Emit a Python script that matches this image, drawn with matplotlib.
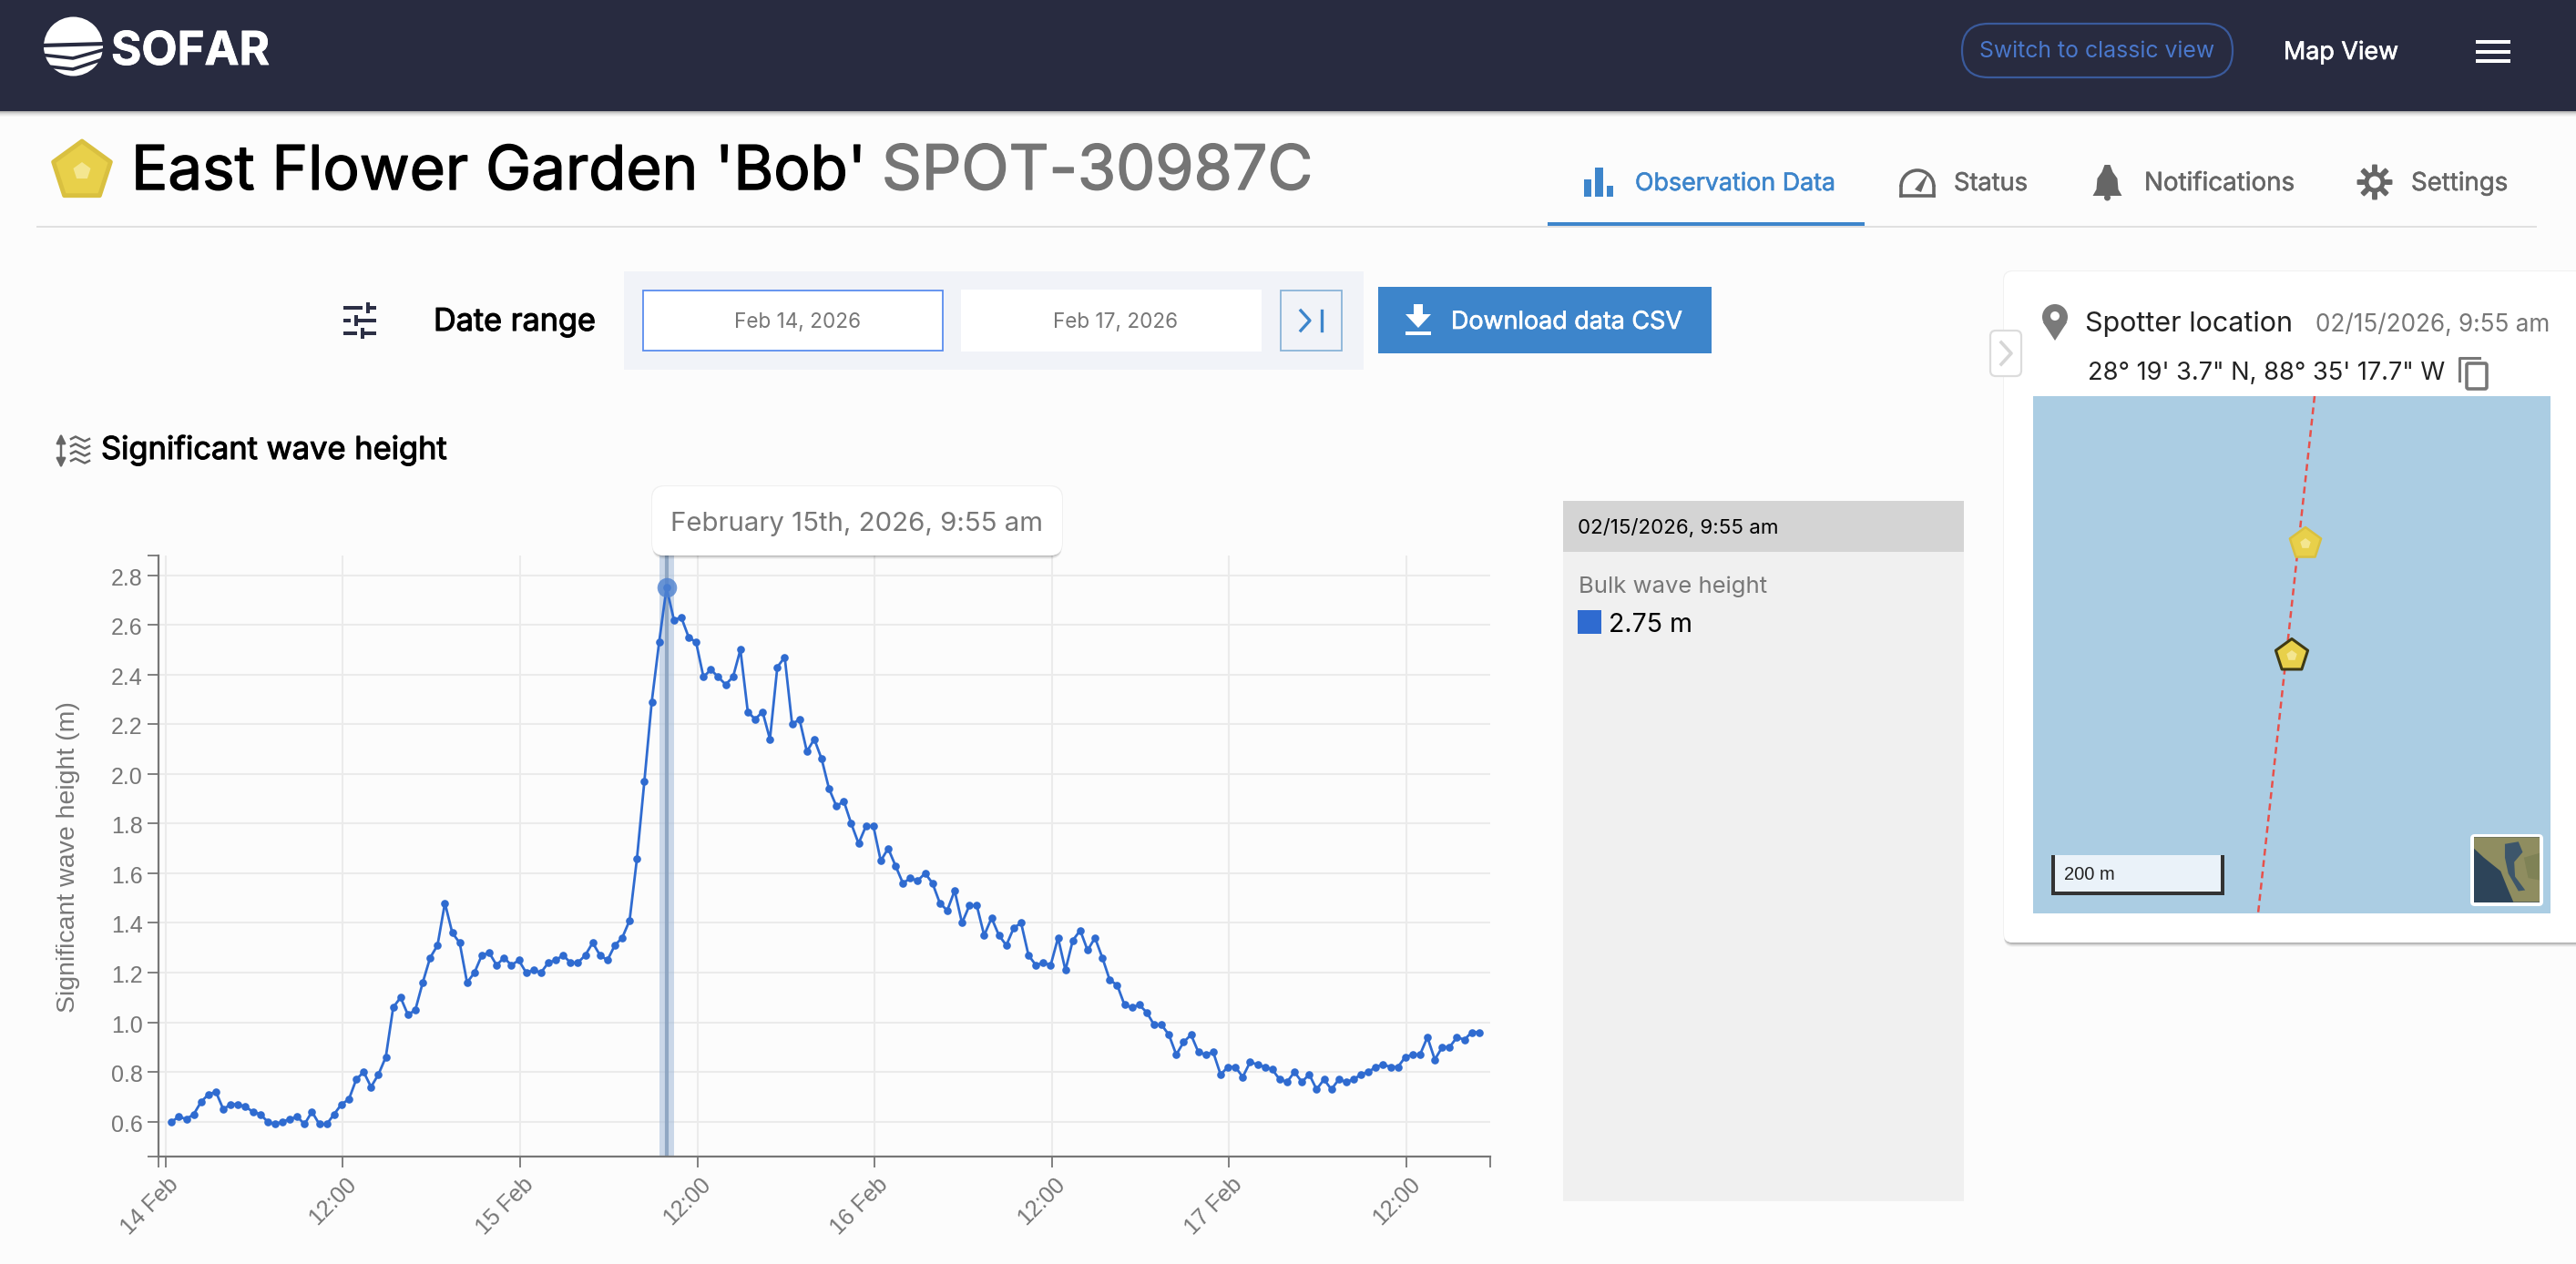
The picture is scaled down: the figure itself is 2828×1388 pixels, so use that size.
import numpy as np
import pandas as pd
import matplotlib
matplotlib.use("Agg")
import matplotlib.pyplot as plt
import matplotlib.dates as mdates
import matplotlib.patheffects as pe
from matplotlib.patches import Rectangle, FancyBboxPatch, Polygon, Circle, Arc
from matplotlib.ticker import FixedLocator, FixedFormatter, NullFormatter
from matplotlib.transforms import ScaledTranslation

# ---------- data ----------
start_time = "2026-02-14 00:25"
wave_height = [
    0.60, 0.62, 0.61, 0.63, 0.68, 0.71, 0.72, 0.65, 0.67, 0.67, 0.66, 0.64, 0.63, 0.60, 0.59, 0.60,
    0.61, 0.62, 0.59, 0.64, 0.59, 0.59, 0.63, 0.67, 0.69, 0.77, 0.80, 0.74, 0.79, 0.86, 1.06, 1.10,
    1.03, 1.05, 1.16, 1.26, 1.31, 1.48, 1.36, 1.32, 1.16, 1.20, 1.27, 1.28, 1.23, 1.26, 1.23, 1.25,
    1.20, 1.21, 1.20, 1.24, 1.25, 1.27, 1.24, 1.24, 1.27, 1.32, 1.27, 1.25, 1.31, 1.34, 1.41, 1.66,
    1.97, 2.29, 2.53, 2.75, 2.62, 2.63, 2.55, 2.53, 2.39, 2.42, 2.39, 2.36, 2.39, 2.50, 2.25, 2.22,
    2.25, 2.14, 2.43, 2.47, 2.20, 2.22, 2.09, 2.14, 2.06, 1.94, 1.87, 1.89, 1.80, 1.72, 1.79, 1.79,
    1.65, 1.70, 1.63, 1.56, 1.58, 1.57, 1.60, 1.56, 1.48, 1.45, 1.53, 1.40, 1.47, 1.47, 1.35, 1.42,
    1.35, 1.31, 1.38, 1.40, 1.27, 1.23, 1.24, 1.23, 1.34, 1.21, 1.33, 1.37, 1.29, 1.34, 1.26, 1.17,
    1.15, 1.07, 1.06, 1.07, 1.04, 0.99, 0.99, 0.95, 0.87, 0.92, 0.95, 0.88, 0.87, 0.88, 0.79, 0.82,
    0.82, 0.78, 0.84, 0.83, 0.82, 0.81, 0.77, 0.76, 0.80, 0.76, 0.79, 0.73, 0.77, 0.73, 0.77, 0.76,
    0.77, 0.79, 0.80, 0.82, 0.83, 0.82, 0.82, 0.86, 0.87, 0.87, 0.94, 0.85, 0.90, 0.90, 0.94, 0.93,
    0.96, 0.96,
]
highlight_index = 67
y_ticks = [0.6, 0.8, 1.0, 1.2, 1.4, 1.6, 1.8, 2.0, 2.2, 2.4, 2.6, 2.8]
x_tick_times = ["2026-02-14 00:00", "2026-02-14 12:00", "2026-02-15 00:00", "2026-02-15 12:00",
                "2026-02-16 00:00", "2026-02-16 12:00", "2026-02-17 00:00", "2026-02-17 12:00"]
x_tick_labels = ["14 Feb", "12:00", "15 Feb", "12:00", "16 Feb", "12:00", "17 Feb", "12:00"]
y_label = "Significant wave height (m)"
tooltip_text = "February 15th, 2026, 9:55 am"
panel_time = "02/15/2026, 9:55 am"
panel_series = "Bulk wave height"
panel_value = "2.75 m"

W, H = 2828, 1388
BG = "#fcfcfc"
NAVY = "#282b40"
BLUE = "#3d85cb"
LINE = "#2f6bd0"
UI_FONT = ["Inter", "DejaVu Sans"]
CH_FONT = ["Liberation Sans", "DejaVu Sans"]

fig = plt.figure(figsize=(W / 100, H / 100), dpi=100, facecolor=BG)
ui = fig.add_axes([0, 0, 1, 1], zorder=0)
ui.set_xlim(0, W); ui.set_ylim(H, 0); ui.axis("off")
top = fig.add_axes([0, 0, 1, 1], zorder=3)
top.set_xlim(0, W); top.set_ylim(H, 0); top.axis("off"); top.patch.set_alpha(0)
renderer = fig.canvas.get_renderer()


def label(a, s, x0, base, width, color="black", font=UI_FONT, weight="normal", zorder=5, stroke=0):
    t = a.text(x0, base, s, ha="left", va="baseline", color=color, family=font,
               weight=weight, fontsize=20, zorder=zorder)
    w = t.get_window_extent(renderer).width
    t.set_fontsize(20 * width / w)
    if stroke:
        t.set_path_effects([pe.withStroke(linewidth=stroke, foreground=color)])
    return t


def rect(a, x0, y0, x1, y1, color, ec="none", lw=0, alpha=None, zorder=1):
    a.add_patch(Rectangle((x0, y0), x1 - x0, y1 - y0, facecolor=color, edgecolor=ec,
                          linewidth=lw, alpha=alpha, zorder=zorder))


def round_box(a, x0, y0, x1, y1, r, fc, ec="none", lw=0, zorder=1, alpha=None):
    a.add_patch(FancyBboxPatch((x0 + r, y0 + r), x1 - x0 - 2 * r, y1 - y0 - 2 * r,
                               boxstyle=f"round,pad={r},rounding_size={r}", facecolor=fc,
                               edgecolor=ec, linewidth=lw, zorder=zorder, alpha=alpha))


def pentagon(a, cx, cy, r, fc, ec, lw, zorder=6):
    ang = np.deg2rad(-90 + 72 * np.arange(5))
    a.add_patch(Polygon(np.c_[cx + r * np.cos(ang), cy + r * np.sin(ang)], closed=True,
                        facecolor=fc, edgecolor=ec, linewidth=lw, joinstyle="round", zorder=zorder))


# ---------- header ----------
for i, al in enumerate([0.30, 0.22, 0.15, 0.10, 0.06, 0.03]):
    rect(ui, 0, 122 + i, W, 123 + i, "black", alpha=al)
rect(ui, 0, 0, W, 122, NAVY)
ui.add_patch(Circle((80.5, 51), 32.5, facecolor="white", edgecolor="none", zorder=2))
ui.plot([44, 116], [50, 48], color=NAVY, lw=3.0, zorder=3)
ui.plot([44, 80, 116], [60, 64, 54], color=NAVY, lw=2.6, zorder=3)
ui.plot([44, 80, 116], [72, 76, 64], color=NAVY, lw=2.6, zorder=3)
label(ui, "SOFAR", 122, 71, 174, "white", weight="bold", stroke=0.6)
round_box(ui, 2154, 26, 2451, 85, 29, "none", "#3a5a9c", 1.6, zorder=2)
label(ui, "Switch to classic view", 2173, 63, 258, "#4a78cc")
label(ui, "Map View", 2507, 65, 126, "white", stroke=0.5)
for y0 in (44, 55, 65):
    rect(ui, 2718, y0, 2756, y0 + 4, "white", zorder=2)

# ---------- title row ----------
pentagon(ui, 90, 188, 33, "#e8d04a", "#d9c040", 3.5)
pentagon(ui, 90, 188, 10, "#f4e690", "none", 0, zorder=7)
label(ui, "East Flower Garden 'Bob'", 144, 208, 808, "black", stroke=1.0)
label(ui, "SPOT-30987C", 968, 208, 473, "#757575", stroke=1.0)
rect(ui, 40, 248, 2785, 250, "#e0e0e0")
rect(ui, 1699, 244, 2047, 248, BLUE, zorder=2)
for x0, x1, y0 in ((1739, 1747, 197), (1751, 1760, 184), (1764, 1771, 204)):
    rect(ui, x0, y0, x1, 216, BLUE)
label(ui, "Observation Data", 1795, 209, 220, BLUE, stroke=0.4)
GR = "#666666"
ui.add_patch(Arc((2105, 205), 36, 36, theta1=0, theta2=180, angle=180, color=GR, lw=2.6, zorder=2))
ui.plot([2087, 2123], [215, 215], color=GR, lw=2.6, zorder=2)
ui.plot([2087, 2087], [205, 215], color=GR, lw=2.6, zorder=2)
ui.plot([2123, 2123], [205, 215], color=GR, lw=2.6, zorder=2)
ui.add_patch(Polygon([[2117, 190], [2109, 211], [2102, 208]], facecolor=GR, zorder=2))
label(ui, "Status", 2145, 209, 81, GR, stroke=0.4)
bx = np.array([2303, 2309, 2312, 2317, 2318, 2322, 2290, 2294, 2295, 2300]) + 7.5
ui.add_patch(Polygon(np.c_[bx, [181, 181, 189, 196, 208, 215, 215, 208, 196, 189]], facecolor=GR, zorder=2))
ui.add_patch(Circle((2313.5, 217), 3.5, facecolor=GR, zorder=2))
label(ui, "Notifications", 2354, 209, 165, GR, stroke=0.4)
ang = np.linspace(0, 2 * np.pi, 361)
rad = 15.5 + 4 * np.clip(2.5 * np.cos(8 * ang), -1, 1)
ui.add_patch(Polygon(np.c_[2607 + rad * np.cos(ang), 200 + rad * np.sin(ang)], facecolor=GR, zorder=2))
ui.add_patch(Circle((2607, 200), 6.5, facecolor=BG, zorder=3))
label(ui, "Settings", 2647, 209, 106, GR, stroke=0.4)

# ---------- controls ----------
I = "#2c2f45"
for yy, xk in ((338, 402), (352, 389), (366, 396)):
    rect(ui, 377, yy - 2, 413, yy + 2, I)
    rect(ui, xk, yy - 6, xk + 4, yy + 6, I, zorder=2)
    rect(ui, xk - 4, yy - 3, xk, yy + 3, BG, zorder=2)
label(ui, "Date range", 476, 363, 178, "black", stroke=0.8)
rect(ui, 685, 298, 1497, 406, "#f1f3f8")
rect(ui, 706, 319, 1035, 385, "white", "#5b8def", 1.3, zorder=2)
rect(ui, 1055, 318, 1385, 386, "white", zorder=2)
rect(ui, 1406, 319, 1473, 385, "#f1f3f8", "#8ab4d8", 1.3, zorder=2)
ui.plot([1428, 1438, 1428], [341, 352, 363], color=BLUE, lw=2.4, zorder=3)
ui.plot([1451, 1451], [341, 363], color=BLUE, lw=2.4, zorder=3)
label(ui, "Feb 14, 2026", 806, 360, 139, "#777777")
label(ui, "Feb 17, 2026", 1156, 360, 137, "#777777")
rect(ui, 1513, 315, 1879, 388, BLUE)
ui.add_patch(Polygon([[1552, 334], [1562, 334], [1562, 345], [1571, 345], [1557, 360], [1543, 345], [1552, 345]],
                     facecolor="white", zorder=3))
rect(ui, 1543, 364, 1571, 368, "white", zorder=3)
label(ui, "Download data CSV", 1593, 361, 254, "white", stroke=0.5)

# section heading
ui.annotate("", xy=(67, 476), xytext=(67, 514), arrowprops=dict(arrowstyle="<|-|>", color="#666666", lw=1.8, shrinkA=0, shrinkB=0, mutation_scale=15))
for yy in (482, 490, 498, 506):
    xs = [78, 83, 88, 93, 98]
    ui.plot(xs, [yy, yy - 2.5, yy, yy + 2.5, yy], color="#666666", lw=1.8, zorder=2)
label(ui, "Significant wave height", 111, 504, 379, "black", stroke=0.8)

# ---------- side panel ----------
rect(ui, 1716, 550, 2156, 1319, "#f0f0f0")
rect(ui, 1716, 550, 2156, 606, "#d4d4d4", zorder=2)
label(ui, panel_time, 1732, 586, 220, "black")
label(ui, panel_series, 1733, 651, 207, "#777777")
rect(ui, 1732, 670, 1758, 696, LINE)
label(ui, panel_value, 1766, 694, 92, "black")

# ---------- location card ----------
for off, al in ((5, 0.03), (4, 0.05), (3, 0.07), (2, 0.09), (1, 0.10)):
    round_box(ui, 2200, 298 + off, 2860, 1035 + off, 10, "black", zorder=1, alpha=al)
round_box(ui, 2199, 297, 2860, 1035, 10, "#f1f1f1", zorder=1.5)
round_box(ui, 2200, 298, 2860, 1035, 10, "white", zorder=2)
round_box(ui, 2185, 363, 2219, 413, 6, "white", "#dcdcdc", 1.6, zorder=4)
ui.plot([2197, 2208, 2197], [376, 388, 400], color="#d6d6d6", lw=2.6, zorder=5)
ui.add_patch(Circle((2256, 348), 14, facecolor="#7a7a7a", zorder=4))
ui.add_patch(Polygon([[2243, 354], [2269, 354], [2256, 374]], facecolor="#7a7a7a", zorder=4))
ui.add_patch(Circle((2256, 347), 5, facecolor="white", zorder=5))
label(ui, "Spotter location", 2289, 364, 228, "#222222")
label(ui, panel_time, 2542, 364, 258, "#777777")
label(ui, "28° 19' 3.7\" N, 88° 35' 17.7\" W", 2292, 417, 394, "#222222")
ui.plot([2700, 2700, 2722], [418, 393, 393], color="#777777", lw=2.2, zorder=4)
round_box(ui, 2708, 399, 2730, 427, 2, "white", "#777777", 2.6, zorder=5)
rect(ui, 2232, 435, 2800, 1003, "#abcde3", zorder=3)
ui.plot([2541, 2479], [435, 1003], color="#e8504a", lw=1.8, ls=(0, (3, 2)), zorder=4)
pentagon(ui, 2531, 597, 18, "#e8d04a", "#d9c040", 1.8)
pentagon(ui, 2531, 597, 6, "#f4e690", "none", 0, zorder=7)
pentagon(ui, 2516, 720, 18.5, "#e8d04a", "#3f3a14", 2.2)
pentagon(ui, 2516, 720, 6, "#f4e690", "none", 0, zorder=7)
rect(ui, 2254, 939, 2440, 980, "#eaf2f9", zorder=4)
rect(ui, 2252, 939, 2256, 983, "#333333", zorder=5)
rect(ui, 2438, 939, 2442, 983, "#333333", zorder=5)
rect(ui, 2252, 979, 2442, 983, "#333333", zorder=5)
label(ui, "200 m", 2266, 966, 56, "#222222", font=CH_FONT)
round_box(ui, 2712, 916, 2792, 995, 5, "white", zorder=4)
rect(ui, 2716, 919, 2788, 991, "#2d4459", zorder=5)


def thumb(pts):
    pts = np.array(pts, dtype=float)
    return np.c_[2100 + pts[:, 0] / 2.154, 280 + pts[:, 1] / 2.01]


ui.add_patch(Polygon(thumb([[1327, 1285], [1482, 1285], [1482, 1428], [1420, 1428], [1405, 1395], [1390, 1360],
                            [1370, 1345], [1350, 1330], [1327, 1310]]), facecolor="#8f8d60", zorder=6))
ui.add_patch(Polygon(thumb([[1400, 1300], [1432, 1295], [1442, 1318], [1422, 1340], [1424, 1372], [1448, 1402],
                            [1432, 1404], [1408, 1365], [1400, 1330]]), facecolor="#3d566b", zorder=7))
ui.add_patch(Polygon(thumb([[1445, 1330], [1482, 1320], [1482, 1380], [1455, 1375]]), facecolor="#7f8256", zorder=7))

# ---------- chart ----------
px0, px1, py0, py1 = 174, 1636, 609.5, 1270
ax = fig.add_axes([px0 / W, 1 - py1 / H, (px1 - px0) / W, (py1 - py0) / H], zorder=2)
ax.patch.set_alpha(0)
times = pd.date_range(start_time, periods=len(wave_height), freq="30min")
tick_dates = pd.to_datetime(x_tick_times)
x_ref = mdates.date2num(tick_dates[0])
hour = 1 / 24
x_min = x_ref - (181.6 - px0) / 16.22 * hour
x_max = x_ref + (px1 - 181.6) / 16.22 * hour
y_min, y_max = 0.4596, 2.881
ax.set_xlim(x_min, x_max)
ax.set_ylim(y_min, y_max)
for s in ("top", "right"):
    ax.spines[s].set_visible(False)
for s in ("left", "bottom"):
    ax.spines[s].set_color("#777777")
    ax.spines[s].set_linewidth(1.6)

ax.xaxis.set_major_locator(FixedLocator(mdates.date2num(tick_dates)))
ax.xaxis.set_major_formatter(FixedFormatter(x_tick_labels))
ax.xaxis.set_minor_locator(FixedLocator([x_min, x_max]))
ax.xaxis.set_minor_formatter(NullFormatter())
ax.yaxis.set_major_locator(FixedLocator(y_ticks))
ax.yaxis.set_major_formatter(FixedFormatter([f"{v:.1f}" for v in y_ticks]))
ax.yaxis.set_minor_locator(FixedLocator([y_min, y_max]))
ax.yaxis.set_minor_formatter(NullFormatter())
ax.tick_params(which="both", length=8.5, width=1.3, color="#777777")
ax.tick_params(axis="y", which="major", labelsize=18, labelcolor="#767676", pad=4)
ax.tick_params(axis="x", which="major", labelsize=18, labelcolor="#767676", pad=5)
y_shift = ScaledTranslation(0, -1.5 / 100, fig.dpi_scale_trans)
for t in ax.get_yticklabels():
    t.set_family(CH_FONT)
    t.set_transform(t.get_transform() + y_shift)
shift = ScaledTranslation(2.5 / 100, 0, fig.dpi_scale_trans)
for t in ax.get_xticklabels():
    t.set_family(CH_FONT)
    t.set_rotation(45)
    t.set_ha("right")
    t.set_va("top")
    t.set_rotation_mode("anchor")
    t.set_transform(t.get_transform() + shift)
ax.grid(True, which="major", color="#ebebeb", lw=1.5, zorder=0)
ax.set_axisbelow(True)
ax.set_ylabel(y_label, fontsize=20.5, color="#777777", family=CH_FONT, labelpad=0)
ax.yaxis.set_label_coords((88 - px0) / (px1 - px0), (py1 - 941) / (py1 - py0))

xh = mdates.date2num(times[highlight_index])
ax.axvspan(xh - 8 * hour / 16.22, xh + 8 * hour / 16.22, color="#a9bfdb", alpha=0.6, lw=0, zorder=1.5)
ax.axvline(xh, color="#8aa2bf", lw=3, alpha=0.9, zorder=1.6)
ax.plot(times, wave_height, color=LINE, lw=2.0, marker="o", ms=6.2, mew=0, zorder=3)
ax.plot([times[highlight_index]], [wave_height[highlight_index]], marker="o", ms=15.5, mew=0,
        color="#4f82d0", alpha=0.8, zorder=4, clip_on=False)

# ---------- tooltip ----------
for off, al in ((4, 0.04), (3, 0.06), (2, 0.08), (1, 0.10)):
    round_box(top, 716, 534 + off, 1166, 610 + off, 14, "black", alpha=al, zorder=1)
round_box(top, 715, 533, 1167, 610, 14, "#f0f0f0", zorder=1.5)
round_box(top, 716, 534, 1166, 610, 14, "white", zorder=2)
label(top, tooltip_text, 736, 583, 409, "#777777")

fig.savefig("out.png", dpi=100, facecolor=BG)
